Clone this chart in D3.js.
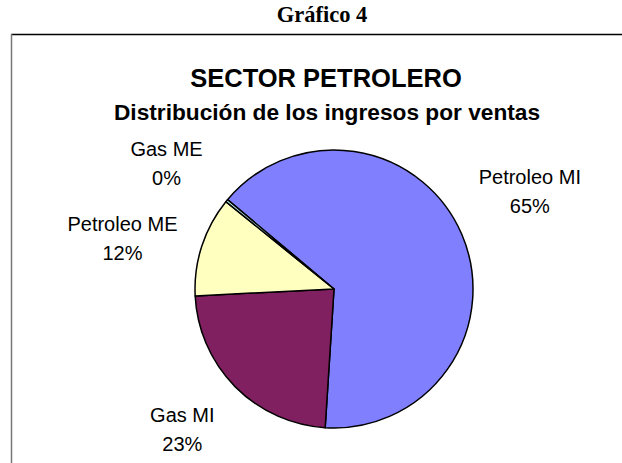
<!DOCTYPE html>
<html>
<head>
<meta charset="utf-8">
<script src="https://cdn.jsdelivr.net/npm/d3@7"></script>
<style>
  body { margin: 0; background: #fff; }
  text { font-family: "Liberation Sans", Arial, sans-serif; fill: #000; }
</style>
</head>
<body>
<div id="d3-container"></div>
<script>
/**
 * CONSTANTS AND GLOBALS
 * */
const width = 622,
  height = 463;

// data (percent of sales revenue)
const categories = ["Petroleo MI", "Gas MI", "Petroleo ME", "Gas ME"];
const shares = [64.9, 23.2, 11.6, 0.3];
const sliceColors = ["#8080ff", "#802060", "#ffffc0", "#c0ffff"];

// small label shifts, like the "best fit" placement of the original
const labelNudge = { "Petroleo MI": [0, -14], "Gas MI": [0, -10], "Petroleo ME": [-9, 15], "Gas ME": [-3, 9] };

const pieData = categories.map((c, i) => ({ name: c, value: shares[i] }));

const svg = d3.select("#d3-container")
  .append("svg")
  .attr("width", width)
  .attr("height", height);

// outer caption
svg.append("text")
  .attr("x", 322)
  .attr("y", 22)
  .attr("text-anchor", "middle")
  .style("font-family", "'Liberation Serif', 'Times New Roman', serif")
  .style("font-weight", "bold")
  .style("font-size", "22.5px")
  .text("Gráfico 4");

// chart frame (runs off the right and bottom of the page)
svg.append("line")
  .attr("x1", 11).attr("x2", width)
  .attr("y1", 34.5).attr("y2", 34.5)
  .attr("stroke", "#000").attr("stroke-width", 1.5);
svg.append("line")
  .attr("x1", 11.5).attr("x2", 11.5)
  .attr("y1", 34).attr("y2", height)
  .attr("stroke", "#777").attr("stroke-width", 1.5);

// titles
svg.append("text")
  .attr("x", 326)
  .attr("y", 87)
  .attr("text-anchor", "middle")
  .style("font-weight", "bold")
  .style("font-size", "25.5px")
  .text("SECTOR PETROLERO");
svg.append("text")
  .attr("x", 327)
  .attr("y", 120)
  .attr("text-anchor", "middle")
  .style("font-weight", "bold")
  .style("font-size", "22.7px")
  .text("Distribución de los ingresos por ventas");

// pie
const cx = 334, cy = 289, radius = 139;
const startDeg = -50;

const pie = d3.pie()
  .sort(null)
  .value(d => d.value)
  .startAngle(startDeg * Math.PI / 180)
  .endAngle((startDeg + 360) * Math.PI / 180);

const arc = d3.arc().innerRadius(0).outerRadius(radius);
const labelArc = d3.arc().innerRadius(213).outerRadius(213);

const colorScale = d3.scaleOrdinal()
  .domain(categories)
  .range(sliceColors);

const g = svg.append("g")
  .attr("transform", `translate(${cx}, ${cy})`);

const arcs = pie(pieData);

g.selectAll("path.slice")
  .data(arcs)
  .join("path")
  .attr("class", "slice")
  .attr("d", arc)
  .attr("fill", d => colorScale(d.data.name))
  .attr("stroke", "#000")
  .attr("stroke-width", 1.5)
  .attr("stroke-linejoin", "round");

const fmt = d3.format(".0f");

const labels = g.selectAll("text.label")
  .data(arcs)
  .join("text")
  .attr("class", "label")
  .attr("text-anchor", "middle")
  .style("font-size", "20px")
  .attr("transform", d => {
    const [x, y] = labelArc.centroid(d);
    const [dx, dy] = labelNudge[d.data.name];
    return `translate(${x + dx}, ${y + dy})`;
  });

labels.append("tspan")
  .attr("x", 0)
  .attr("y", -7)
  .text(d => d.data.name);
labels.append("tspan")
  .attr("x", 0)
  .attr("y", 22)
  .text(d => fmt(d.data.value) + "%");
</script>
</body>
</html>
